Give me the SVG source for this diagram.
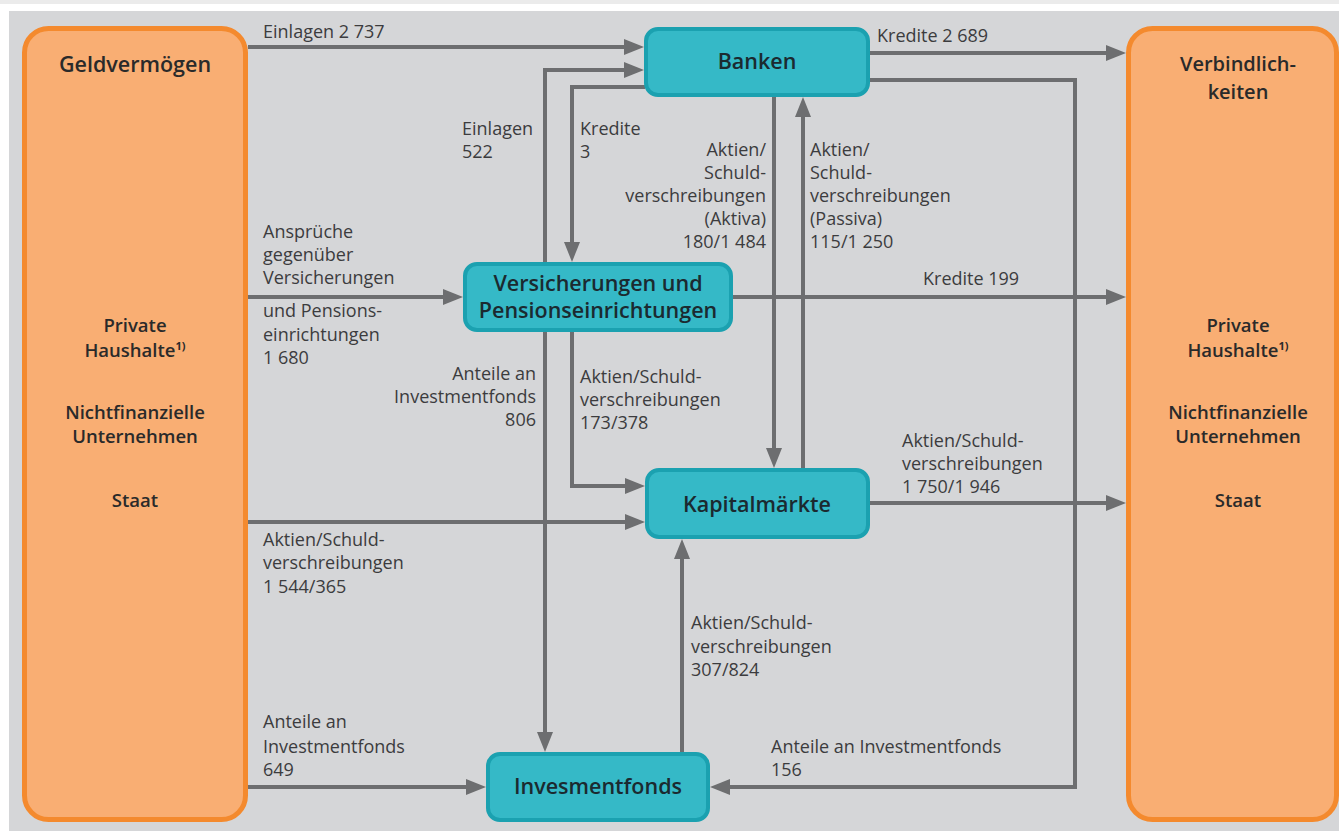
<svg xmlns="http://www.w3.org/2000/svg" width="1339" height="831" viewBox="0 0 1339 831">
<style>
.sector{fill:#f9ae73;stroke:#f48a2e;stroke-width:5}
.inst{fill:#35b9c7;stroke:#1ba1b0;stroke-width:4}
.conn{fill:none;stroke:#6d6e70;stroke-width:4;marker-end:url(#arr)}
.lbl{font-family:"Open Sans","Noto Sans",sans-serif;font-size:18px;fill:#3c3c3e}
.r{text-anchor:end}
.st{font-family:"Open Sans","Noto Sans",sans-serif;font-size:18.5px;font-weight:600;fill:#2a2a2a;text-anchor:middle}
.hd{font-family:"Open Sans","Noto Sans",sans-serif;font-size:21.5px;font-weight:600;fill:#2a2a2a;text-anchor:middle}
.hd2{font-family:"Open Sans","Noto Sans",sans-serif;font-size:20px;font-weight:600;fill:#2a2a2a;text-anchor:middle}
.nt{font-family:"Open Sans","Noto Sans",sans-serif;font-size:21.5px;font-weight:600;fill:#1b2a30;text-anchor:middle}
.sup{font-size:11px;font-weight:700}
</style>
<defs>
<marker id="arr" markerUnits="userSpaceOnUse" markerWidth="20" markerHeight="16" refX="10" refY="8" orient="auto">
<path d="M0,0 L20,8 L0,16 z" fill="#6d6e70"/>
</marker>
</defs>
<rect x="0" y="0" width="1339" height="831" fill="#ffffff"/>
<rect x="0" y="0" width="1339" height="4" fill="#ebebeb"/>
<rect x="9" y="11" width="1330" height="820" fill="#d5d6d8"/>

<g id="geldvermoegen">
<rect class="sector" x="24.5" y="28.5" width="221" height="791" rx="24"/>
<text class="hd" x="135" y="72">Geldvermögen</text>
<text class="st" x="135" y="332">Private<tspan x="135" dy="25">Haushalte</tspan><tspan class="sup" dy="-7">1)</tspan></text>
<text class="st" x="135" y="419">Nichtfinanzielle<tspan x="135" dy="24">Unternehmen</tspan></text>
<text class="st" x="135" y="507">Staat</text>
</g>

<g id="verbindlichkeiten">
<rect class="sector" x="1128.5" y="28.5" width="208" height="791" rx="24"/>
<text class="hd2" x="1238" y="71">Verbindlich-<tspan x="1238" dy="27.5">keiten</tspan></text>
<text class="st" x="1238" y="332">Private<tspan x="1238" dy="25">Haushalte</tspan><tspan class="sup" dy="-7">1)</tspan></text>
<text class="st" x="1238" y="419">Nichtfinanzielle<tspan x="1238" dy="24">Unternehmen</tspan></text>
<text class="st" x="1238" y="507">Staat</text>
</g>

<g id="connectors">
<path class="conn" d="M248,47 H634"/>
<path class="conn" d="M870,53 H1116"/>
<path class="conn" d="M870,80 H1075 V787 H720"/>
<path class="conn" d="M545,262 V70 H634"/>
<path class="conn" d="M645,87 H572 V252"/>
<path class="conn" d="M545,332 V742"/>
<path class="conn" d="M572,332 V486 H635"/>
<path class="conn" d="M774,97 V458"/>
<path class="conn" d="M803,468 V107"/>
<path class="conn" d="M733,297 H1116"/>
<path class="conn" d="M248,297 H453"/>
<path class="conn" d="M248,522 H635"/>
<path class="conn" d="M870,503 H1116"/>
<path class="conn" d="M682,752 V549"/>
<path class="conn" d="M248,787 H476"/>
</g>

<g id="labels">
<text class="lbl" x="263" y="38">Einlagen 2 737</text>
<text class="lbl" x="877" y="42">Kredite 2 689</text>
<text class="lbl" x="462" y="135">Einlagen<tspan x="462" dy="23">522</tspan></text>
<text class="lbl" x="580" y="135">Kredite<tspan x="580" dy="23">3</tspan></text>
<text class="lbl r" x="766" y="156">Aktien/<tspan x="766" dy="23">Schuld-</tspan><tspan x="766" dy="23">verschreibungen</tspan><tspan x="766" dy="23">(Aktiva)</tspan><tspan x="766" dy="23">180/1 484</tspan></text>
<text class="lbl" x="810" y="156">Aktien/<tspan x="810" dy="23">Schuld-</tspan><tspan x="810" dy="23">verschreibungen</tspan><tspan x="810" dy="23">(Passiva)</tspan><tspan x="810" dy="23">115/1 250</tspan></text>
<text class="lbl" x="263" y="238">Ansprüche<tspan x="263" dy="23">gegenüber</tspan><tspan x="263" dy="23">Versicherungen</tspan></text>
<text class="lbl" x="263" y="317">und Pensions-<tspan x="263" dy="24">einrichtungen</tspan><tspan x="263" dy="23">1 680</tspan></text>
<text class="lbl" x="923" y="285">Kredite 199</text>
<text class="lbl r" x="536" y="380">Anteile an<tspan x="536" dy="23">Investmentfonds</tspan><tspan x="536" dy="23">806</tspan></text>
<text class="lbl" x="580" y="383">Aktien/Schuld-<tspan x="580" dy="23">verschreibungen</tspan><tspan x="580" dy="23">173/378</tspan></text>
<text class="lbl" x="902" y="447">Aktien/Schuld-<tspan x="902" dy="23">verschreibungen</tspan><tspan x="902" dy="23">1 750/1 946</tspan></text>
<text class="lbl" x="263" y="546">Aktien/Schuld-<tspan x="263" dy="23">verschreibungen</tspan><tspan x="263" dy="24">1 544/365</tspan></text>
<text class="lbl" x="691" y="629">Aktien/Schuld-<tspan x="691" dy="24">verschreibungen</tspan><tspan x="691" dy="23">307/824</tspan></text>
<text class="lbl" x="263" y="728">Anteile an<tspan x="263" dy="25">Investmentfonds</tspan><tspan x="263" dy="23">649</tspan></text>
<text class="lbl" x="771" y="753">Anteile an Investmentfonds<tspan x="771" dy="23">156</tspan></text>
</g>

<g id="banken">
<rect class="inst" x="646" y="29" width="222" height="66" rx="12"/>
<text class="nt" x="757" y="69">Banken</text>
</g>
<g id="versicherungen">
<rect class="inst" x="465" y="264" width="266" height="66" rx="12"/>
<text class="nt" x="598" y="291">Versicherungen und<tspan x="598" dy="27">Pensionseinrichtungen</tspan></text>
</g>
<g id="kapitalmaerkte">
<rect class="inst" x="647" y="470" width="221" height="67" rx="12"/>
<text class="nt" x="757" y="512">Kapitalmärkte</text>
</g>
<g id="investmentfonds">
<rect class="inst" x="488" y="754" width="220" height="66" rx="12"/>
<text class="nt" x="598" y="794">Invesmentfonds</text>
</g>
</svg>
